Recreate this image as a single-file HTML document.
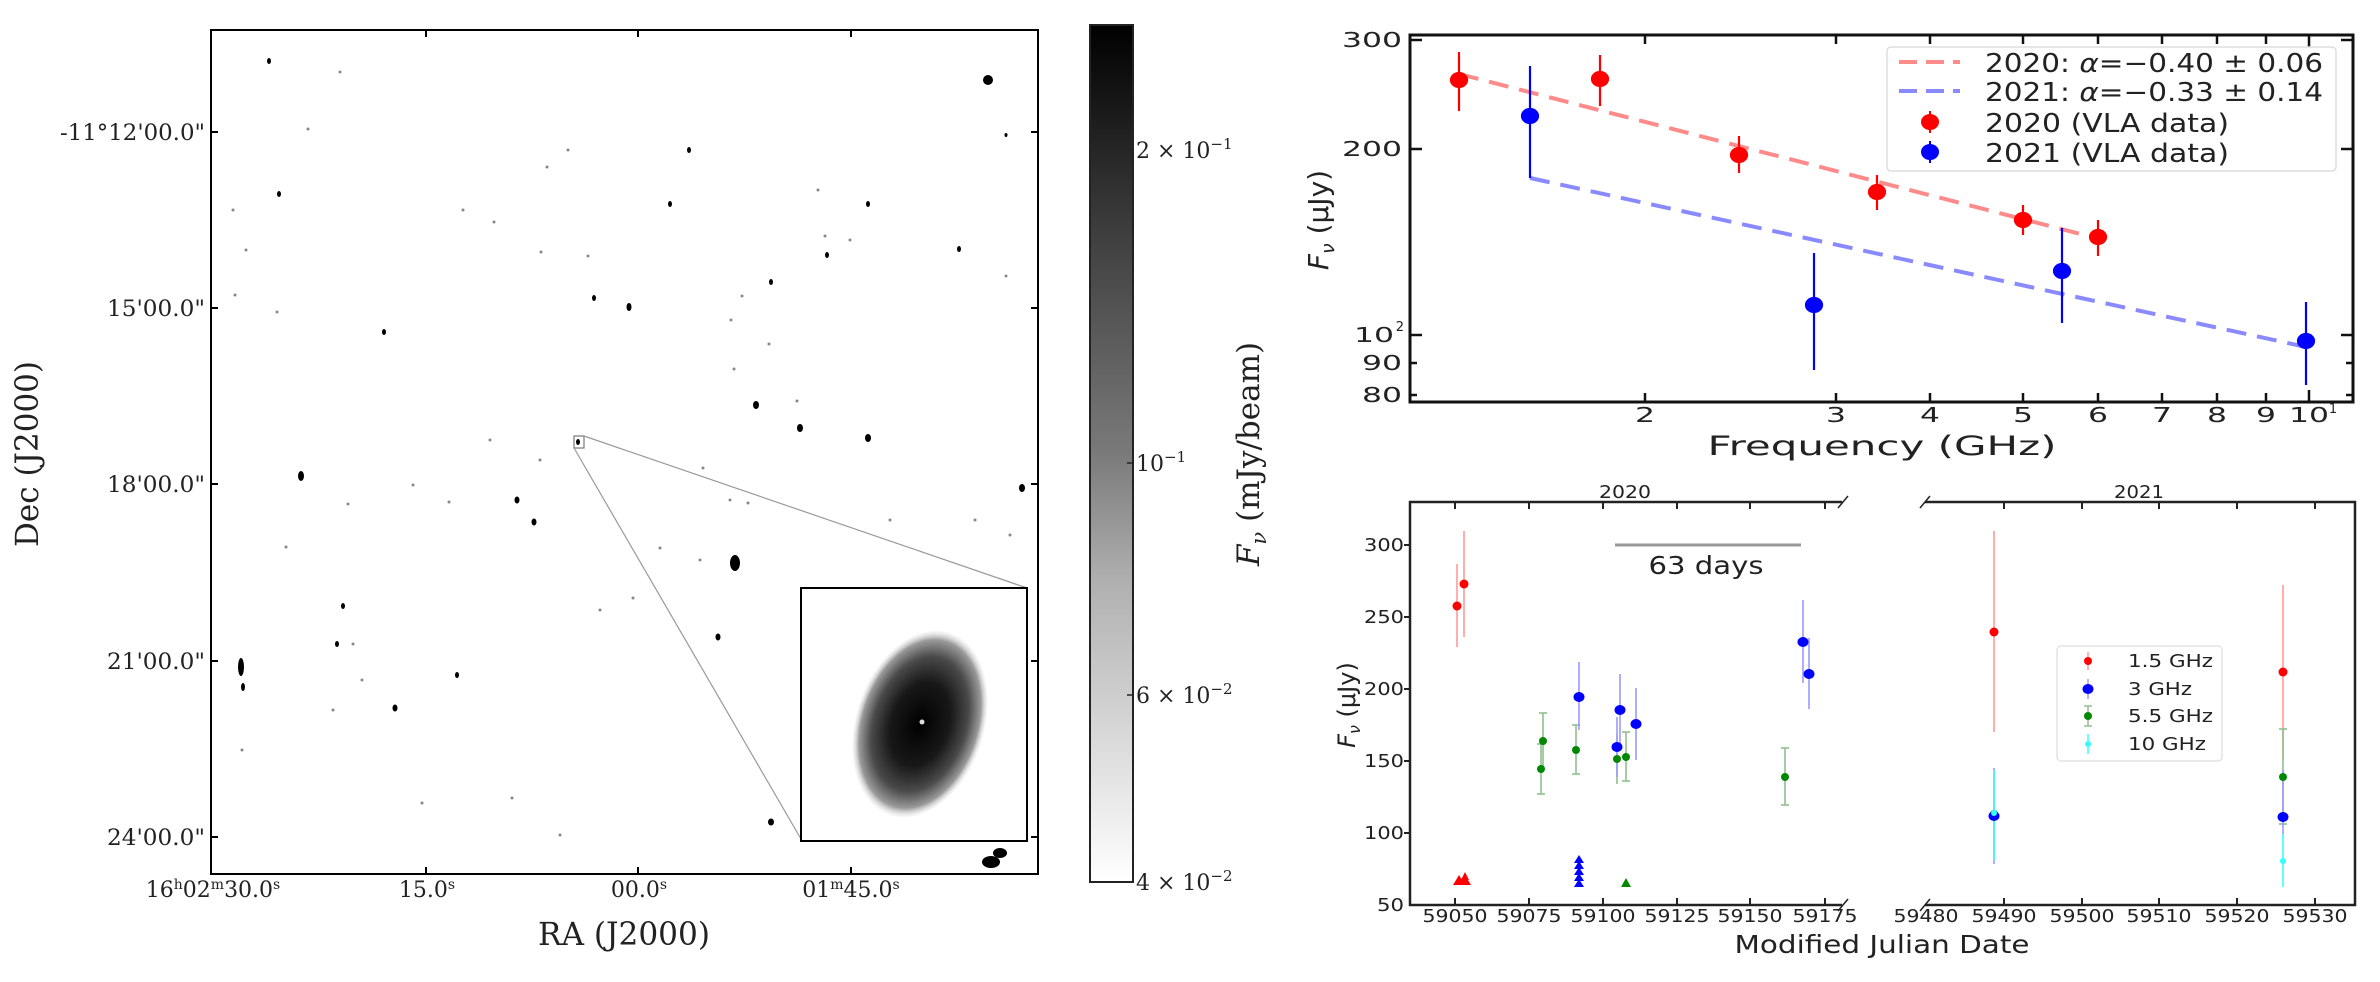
<!DOCTYPE html>
<html><head><meta charset="utf-8"><style>html,body{margin:0;padding:0;background:#fff}svg{display:block}</style></head>
<body>
<svg width="2380" height="982" viewBox="0 0 2380 982" xmlns="http://www.w3.org/2000/svg">
<defs>
<linearGradient id="cb" x1="0" y1="1" x2="0" y2="0">
<stop offset="0" stop-color="#fff"/><stop offset="0.35" stop-color="#b0b0b0"/><stop offset="0.5" stop-color="#7a7a7a"/><stop offset="0.75" stop-color="#404040"/><stop offset="1" stop-color="#000"/>
</linearGradient>
<radialGradient id="blob" cx="0.5" cy="0.5" r="0.5">
<stop offset="0" stop-color="#000"/><stop offset="0.45" stop-color="#181818"/><stop offset="0.72" stop-color="#4a4a4a"/><stop offset="0.9" stop-color="#9a9a9a"/><stop offset="1" stop-color="#eee" stop-opacity="0.3"/>
</radialGradient>
</defs>
<rect width="2380" height="982" fill="#fff"/>

<!-- LEFT PANEL -->
<g fill="#000">
<ellipse cx="988" cy="80" rx="5" ry="5"/>
<ellipse cx="301" cy="476" rx="3" ry="5"/>
<ellipse cx="735" cy="563" rx="5" ry="8"/>
<ellipse cx="241" cy="667" rx="3" ry="9"/>
<ellipse cx="243" cy="687" rx="2" ry="4"/>
<ellipse cx="991" cy="862" rx="9" ry="6"/>
<ellipse cx="1000" cy="853" rx="7" ry="5"/>
<ellipse cx="1022" cy="488" rx="3" ry="4"/>
<ellipse cx="800" cy="428" rx="3" ry="4"/>
<ellipse cx="868" cy="438" rx="3" ry="4"/>
<ellipse cx="756" cy="405" rx="3" ry="4"/>
<ellipse cx="629" cy="307" rx="2.5" ry="4"/>
<ellipse cx="517" cy="500" rx="2.5" ry="3.5"/>
<ellipse cx="534" cy="522" rx="2.5" ry="3.5"/>
<ellipse cx="718" cy="637" rx="2.5" ry="3.5"/>
<ellipse cx="395" cy="708" rx="2.5" ry="3.5"/>
<ellipse cx="771" cy="822" rx="3" ry="3.5"/>
<ellipse cx="959" cy="249" rx="2" ry="3"/>
<ellipse cx="827" cy="255" rx="2" ry="3"/>
<ellipse cx="594" cy="298" rx="2" ry="3"/>
<ellipse cx="771" cy="282" rx="2" ry="3"/>
<ellipse cx="269" cy="61" rx="2" ry="3"/>
<ellipse cx="689" cy="150" rx="2" ry="3"/>
<ellipse cx="670" cy="204" rx="2" ry="3"/>
<ellipse cx="868" cy="204" rx="2" ry="3"/>
<ellipse cx="279" cy="194" rx="2" ry="3"/>
<ellipse cx="384" cy="332" rx="2" ry="3"/>
<ellipse cx="457" cy="675" rx="2" ry="3"/>
<ellipse cx="337" cy="644" rx="2" ry="3"/>
<ellipse cx="343" cy="606" rx="2" ry="3"/>
<ellipse cx="1006" cy="135" rx="1.5" ry="2"/>
<ellipse cx="578" cy="442" rx="2" ry="3"/>
</g>
<g fill="#888">
<circle cx="340" cy="72" r="1.5"/><circle cx="308" cy="129" r="1.5"/><circle cx="568" cy="150" r="1.5"/><circle cx="547" cy="167" r="1.5"/><circle cx="463" cy="210" r="1.5"/><circle cx="494" cy="222" r="1.5"/><circle cx="541" cy="252" r="1.5"/><circle cx="588" cy="256" r="1.5"/><circle cx="742" cy="296" r="1.5"/><circle cx="731" cy="320" r="1.5"/><circle cx="734" cy="369" r="1.5"/><circle cx="769" cy="344" r="1.5"/><circle cx="797" cy="401" r="1.5"/><circle cx="703" cy="468" r="1.5"/><circle cx="748" cy="503" r="1.5"/><circle cx="413" cy="485" r="1.5"/><circle cx="449" cy="502" r="1.5"/><circle cx="348" cy="504" r="1.5"/><circle cx="286" cy="547" r="1.5"/><circle cx="633" cy="598" r="1.5"/><circle cx="353" cy="644" r="1.5"/><circle cx="362" cy="680" r="1.5"/><circle cx="333" cy="710" r="1.5"/><circle cx="422" cy="803" r="1.5"/><circle cx="512" cy="798" r="1.5"/><circle cx="560" cy="835" r="1.5"/><circle cx="235" cy="295" r="1.5"/><circle cx="246" cy="250" r="1.5"/><circle cx="277" cy="312" r="1.5"/><circle cx="242" cy="750" r="1.5"/><circle cx="233" cy="210" r="1.5"/><circle cx="818" cy="190" r="1.5"/><circle cx="825" cy="236" r="1.5"/><circle cx="850" cy="240" r="1.5"/><circle cx="1006" cy="276" r="1.5"/><circle cx="975" cy="520" r="1.5"/><circle cx="1010" cy="535" r="1.5"/><circle cx="890" cy="520" r="1.5"/><circle cx="660" cy="548" r="1.5"/><circle cx="540" cy="460" r="1.5"/><circle cx="490" cy="440" r="1.5"/><circle cx="730" cy="500" r="1.5"/><circle cx="700" cy="560" r="1.5"/><circle cx="600" cy="610" r="1.5"/></g>
<!-- zoom lines -->
<rect x="574" y="436" width="10" height="12" fill="none" stroke="#777" stroke-width="1.2"/>
<line x1="574" y1="448" x2="801" y2="839" stroke="#999" stroke-width="1.2"/>
<line x1="584" y1="436" x2="1027" y2="588" stroke="#999" stroke-width="1.2"/>
<!-- inset -->
<rect x="801" y="588" width="226" height="253" fill="#fff" stroke="#000" stroke-width="2"/>
<ellipse cx="920" cy="724" rx="64" ry="96" fill="url(#blob)" transform="rotate(18 920 724)"/>
<circle cx="922" cy="722" r="2.5" fill="#ddd"/>
<!-- frame -->
<rect x="211" y="30" width="827" height="844" fill="none" stroke="#000" stroke-width="2"/>
<g stroke="#000" stroke-width="2">
<line x1="211" y1="132" x2="218" y2="132"/><line x1="1031" y1="132" x2="1038" y2="132"/>
<line x1="211" y1="308" x2="218" y2="308"/><line x1="1031" y1="308" x2="1038" y2="308"/>
<line x1="211" y1="484" x2="218" y2="484"/><line x1="1031" y1="484" x2="1038" y2="484"/>
<line x1="211" y1="661" x2="218" y2="661"/><line x1="1031" y1="661" x2="1038" y2="661"/>
<line x1="211" y1="837" x2="218" y2="837"/><line x1="1031" y1="837" x2="1038" y2="837"/>
<line x1="426" y1="30" x2="426" y2="37"/><line x1="426" y1="867" x2="426" y2="874"/>
<line x1="638" y1="30" x2="638" y2="37"/><line x1="638" y1="867" x2="638" y2="874"/>
<line x1="851" y1="30" x2="851" y2="37"/><line x1="851" y1="867" x2="851" y2="874"/>
</g>
<g font-family="'DejaVu Serif','Liberation Serif',serif" font-size="22" fill="#222" text-anchor="end">
<text x="205" y="140" textLength="145" lengthAdjust="spacingAndGlyphs">-11°12'00.0"</text>
<text x="205" y="316" textLength="98" lengthAdjust="spacingAndGlyphs">15'00.0"</text>
<text x="205" y="492" textLength="98" lengthAdjust="spacingAndGlyphs">18'00.0"</text>
<text x="205" y="669" textLength="98" lengthAdjust="spacingAndGlyphs">21'00.0"</text>
<text x="205" y="845" textLength="98" lengthAdjust="spacingAndGlyphs">24'00.0"</text>
</g>
<g font-family="'DejaVu Serif','Liberation Serif',serif" font-size="22" fill="#222" text-anchor="middle">
<text x="213" y="897">16<tspan font-size="14" dy="-8">h</tspan><tspan dy="8">02</tspan><tspan font-size="14" dy="-8">m</tspan><tspan dy="8">30.0</tspan><tspan font-size="14" dy="-8">s</tspan></text>
<text x="427" y="897">15.0<tspan font-size="14" dy="-8">s</tspan></text>
<text x="639" y="897">00.0<tspan font-size="14" dy="-8">s</tspan></text>
<text x="851" y="897">01<tspan font-size="14" dy="-8">m</tspan><tspan dy="8">45.0</tspan><tspan font-size="14" dy="-8">s</tspan></text>
</g>
<text x="624" y="945" font-family="'DejaVu Serif','Liberation Serif',serif" font-size="32" fill="#222" text-anchor="middle" textLength="172" lengthAdjust="spacingAndGlyphs">RA (J2000)</text>
<text transform="translate(38 454) rotate(-90)" font-family="'DejaVu Serif','Liberation Serif',serif" font-size="32" fill="#222" text-anchor="middle" textLength="186" lengthAdjust="spacingAndGlyphs">Dec (J2000)</text>
<!-- colorbar -->
<rect x="1090" y="25" width="43" height="857" fill="url(#cb)" stroke="#222" stroke-width="2"/>
<g stroke="#222" stroke-width="1.5">
<line x1="1127" y1="150" x2="1133" y2="150"/><line x1="1127" y1="463" x2="1133" y2="463"/><line x1="1127" y1="695" x2="1133" y2="695"/>
</g>
<g font-family="'DejaVu Serif','Liberation Serif',serif" font-size="22" fill="#222">
<text x="1136" y="158">2 × 10<tspan font-size="15" dy="-9">−1</tspan></text>
<text x="1136" y="471">10<tspan font-size="15" dy="-9">−1</tspan></text>
<text x="1136" y="703">6 × 10<tspan font-size="15" dy="-9">−2</tspan></text>
<text x="1136" y="890">4 × 10<tspan font-size="15" dy="-9">−2</tspan></text>
</g>
<text transform="translate(1259 454) rotate(-90)" font-family="'DejaVu Serif','Liberation Serif',serif" font-size="31" fill="#222" text-anchor="middle"><tspan font-style="italic">F</tspan><tspan font-style="italic" font-size="21" dy="7">ν</tspan><tspan dy="-7"> (mJy/beam)</tspan></text>

<!-- TOP RIGHT PANEL -->
<g font-family="'DejaVu Sans','Liberation Sans',sans-serif" fill="#222">
<rect x="1410" y="35" width="943" height="367" fill="none" stroke="#111" stroke-width="3"/>
<g stroke="#111" stroke-width="2.5">
<line x1="1645" y1="402" x2="1645" y2="393"/><line x1="1645" y1="35" x2="1645" y2="44"/>
<line x1="1836" y1="402" x2="1836" y2="393"/><line x1="1836" y1="35" x2="1836" y2="44"/>
<line x1="1930" y1="402" x2="1930" y2="393"/><line x1="1930" y1="35" x2="1930" y2="44"/>
<line x1="2023" y1="402" x2="2023" y2="393"/><line x1="2023" y1="35" x2="2023" y2="44"/>
<line x1="2098" y1="402" x2="2098" y2="393"/><line x1="2098" y1="35" x2="2098" y2="44"/>
<line x1="2162" y1="402" x2="2162" y2="393"/><line x1="2162" y1="35" x2="2162" y2="44"/>
<line x1="2217" y1="402" x2="2217" y2="393"/><line x1="2217" y1="35" x2="2217" y2="44"/>
<line x1="2266" y1="402" x2="2266" y2="393"/><line x1="2266" y1="35" x2="2266" y2="44"/>
<line x1="2309" y1="402" x2="2309" y2="390"/><line x1="2309" y1="35" x2="2309" y2="47"/>
<line x1="1410" y1="40" x2="1422" y2="40"/><line x1="2341" y1="40" x2="2353" y2="40"/>
<line x1="1410" y1="149" x2="1422" y2="149"/><line x1="2341" y1="149" x2="2353" y2="149"/>
<line x1="1410" y1="335" x2="1422" y2="335"/><line x1="2341" y1="335" x2="2353" y2="335"/>
<line x1="1410" y1="363" x2="1417" y2="363"/><line x1="2346" y1="363" x2="2353" y2="363"/>
<line x1="1410" y1="395" x2="1417" y2="395"/><line x1="2346" y1="395" x2="2353" y2="395"/>
</g>
<g font-size="20" text-anchor="end">
<text x="1402" y="47" textLength="60" lengthAdjust="spacingAndGlyphs">300</text>
<text x="1402" y="156" textLength="60" lengthAdjust="spacingAndGlyphs">200</text>
<text x="1394" y="342" textLength="40" lengthAdjust="spacingAndGlyphs">10</text>
<text x="1404" y="331" font-size="13">2</text>
<text x="1402" y="370" textLength="40" lengthAdjust="spacingAndGlyphs">90</text>
<text x="1402" y="402" textLength="40" lengthAdjust="spacingAndGlyphs">80</text>
</g>
<g font-size="20" text-anchor="middle">
<text x="1645" y="422" textLength="20" lengthAdjust="spacingAndGlyphs">2</text>
<text x="1836" y="422" textLength="20" lengthAdjust="spacingAndGlyphs">3</text>
<text x="1930" y="422" textLength="20" lengthAdjust="spacingAndGlyphs">4</text>
<text x="2023" y="422" textLength="20" lengthAdjust="spacingAndGlyphs">5</text>
<text x="2098" y="422" textLength="20" lengthAdjust="spacingAndGlyphs">6</text>
<text x="2162" y="422" textLength="20" lengthAdjust="spacingAndGlyphs">7</text>
<text x="2217" y="422" textLength="20" lengthAdjust="spacingAndGlyphs">8</text>
<text x="2266" y="422" textLength="20" lengthAdjust="spacingAndGlyphs">9</text>
<text x="2309" y="422" textLength="40" lengthAdjust="spacingAndGlyphs">10</text>
<text x="2333" y="413" font-size="13">1</text>
</g>
<text x="1882" y="455" font-size="27" text-anchor="middle" textLength="349" lengthAdjust="spacingAndGlyphs">Frequency (GHz)</text>
<text transform="translate(1328 220) rotate(-90)" font-size="28" text-anchor="middle"><tspan font-style="italic">F</tspan><tspan font-style="italic" font-size="19" dy="6">ν</tspan><tspan dy="-6"> (μJy)</tspan></text>
<!-- fit lines -->
<line x1="1459" y1="74" x2="2104" y2="240" stroke="#ff8a8a" stroke-width="4" stroke-dasharray="20 11"/>
<line x1="1530" y1="178" x2="2306" y2="347" stroke="#8a8aff" stroke-width="4" stroke-dasharray="20 11"/>
<!-- red points -->
<g stroke="#f00" stroke-width="2.2" fill="#f00">
<line x1="1459" y1="52" x2="1459" y2="111"/><ellipse cx="1459" cy="80" rx="8" ry="7"/>
<line x1="1600" y1="55" x2="1600" y2="106"/><ellipse cx="1600" cy="79" rx="8" ry="7"/>
<line x1="1739" y1="136" x2="1739" y2="173"/><ellipse cx="1739" cy="155" rx="8" ry="7"/>
<line x1="1877" y1="175" x2="1877" y2="210"/><ellipse cx="1877" cy="192" rx="8" ry="7"/>
<line x1="2023" y1="205" x2="2023" y2="235"/><ellipse cx="2023" cy="220" rx="8" ry="7"/>
<line x1="2098" y1="220" x2="2098" y2="256"/><ellipse cx="2098" cy="237" rx="8" ry="7"/>
</g>
<g stroke="#00f" stroke-width="2.2" fill="#00f">
<line x1="1530" y1="66" x2="1530" y2="178"/><ellipse cx="1530" cy="116" rx="8" ry="7"/>
<line x1="1814" y1="253" x2="1814" y2="370"/><ellipse cx="1814" cy="305" rx="8" ry="7"/>
<line x1="2062" y1="228" x2="2062" y2="323"/><ellipse cx="2062" cy="271" rx="8" ry="7"/>
<line x1="2306" y1="302" x2="2306" y2="385"/><ellipse cx="2306" cy="341" rx="8" ry="7"/>
</g>
<!-- legend -->
<rect x="1887" y="47" width="449" height="124" rx="4" fill="#fff" fill-opacity="0.85" stroke="#ddd" stroke-width="1.5"/>
<line x1="1899" y1="62" x2="1960" y2="62" stroke="#ff8a8a" stroke-width="4" stroke-dasharray="18 9"/>
<line x1="1899" y1="91" x2="1960" y2="91" stroke="#8a8aff" stroke-width="4" stroke-dasharray="18 9"/>
<g stroke="#f00" stroke-width="2" fill="#f00"><line x1="1930" y1="111" x2="1930" y2="133"/><ellipse cx="1930" cy="122" rx="8" ry="7"/></g>
<g stroke="#00f" stroke-width="2" fill="#00f"><line x1="1930" y1="141" x2="1930" y2="163"/><ellipse cx="1930" cy="152" rx="8" ry="7"/></g>
<g font-size="26">
<text x="1985" y="72" textLength="338" lengthAdjust="spacingAndGlyphs">2020: <tspan font-style="italic">α</tspan>=−0.40 ± 0.06</text>
<text x="1985" y="101" textLength="338" lengthAdjust="spacingAndGlyphs">2021: <tspan font-style="italic">α</tspan>=−0.33 ± 0.14</text>
<text x="1985" y="132" textLength="244" lengthAdjust="spacingAndGlyphs">2020 (VLA data)</text>
<text x="1985" y="162" textLength="244" lengthAdjust="spacingAndGlyphs">2021 (VLA data)</text>
</g>

<!-- BOTTOM RIGHT PANEL -->
<g stroke="#222" stroke-width="2.5" fill="none">
<polyline points="1842,502 1410,502 1410,905 1842,905"/>
<polyline points="1925,502 2355,502 2355,905 1925,905"/>
</g>
<g stroke="#222" stroke-width="1.5">
<line x1="1838" y1="508" x2="1848" y2="496"/><line x1="1838" y1="911" x2="1848" y2="899"/>
<line x1="1920" y1="508" x2="1930" y2="496"/><line x1="1920" y1="911" x2="1930" y2="899"/>
</g>
<g stroke="#222" stroke-width="2">
<line x1="1455" y1="502" x2="1455" y2="509"/><line x1="1455" y1="905" x2="1455" y2="898"/>
<line x1="1529" y1="502" x2="1529" y2="509"/><line x1="1529" y1="905" x2="1529" y2="898"/>
<line x1="1603" y1="502" x2="1603" y2="509"/><line x1="1603" y1="905" x2="1603" y2="898"/>
<line x1="1677" y1="502" x2="1677" y2="509"/><line x1="1677" y1="905" x2="1677" y2="898"/>
<line x1="1750" y1="502" x2="1750" y2="509"/><line x1="1750" y1="905" x2="1750" y2="898"/>
<line x1="1825" y1="502" x2="1825" y2="509"/><line x1="1825" y1="905" x2="1825" y2="898"/>
<line x1="2004" y1="502" x2="2004" y2="509"/><line x1="2004" y1="905" x2="2004" y2="898"/>
<line x1="2082" y1="502" x2="2082" y2="509"/><line x1="2082" y1="905" x2="2082" y2="898"/>
<line x1="2159" y1="502" x2="2159" y2="509"/><line x1="2159" y1="905" x2="2159" y2="898"/>
<line x1="2237" y1="502" x2="2237" y2="509"/><line x1="2237" y1="905" x2="2237" y2="898"/>
<line x1="2315" y1="502" x2="2315" y2="509"/><line x1="2315" y1="905" x2="2315" y2="898"/>
<line x1="1404" y1="545" x2="1410" y2="545"/><line x1="1404" y1="617" x2="1410" y2="617"/><line x1="1404" y1="689" x2="1410" y2="689"/><line x1="1404" y1="761" x2="1410" y2="761"/><line x1="1404" y1="833" x2="1410" y2="833"/>
</g>
<text x="1625" y="498" font-size="18" text-anchor="middle" textLength="52" lengthAdjust="spacingAndGlyphs">2020</text>
<text x="2139" y="498" font-size="18" text-anchor="middle" textLength="50" lengthAdjust="spacingAndGlyphs">2021</text>
<g font-size="18" text-anchor="end">
<text x="1404" y="551" textLength="40" lengthAdjust="spacingAndGlyphs">300</text>
<text x="1404" y="623" textLength="40" lengthAdjust="spacingAndGlyphs">250</text>
<text x="1404" y="695" textLength="40" lengthAdjust="spacingAndGlyphs">200</text>
<text x="1404" y="767" textLength="40" lengthAdjust="spacingAndGlyphs">150</text>
<text x="1404" y="839" textLength="40" lengthAdjust="spacingAndGlyphs">100</text>
<text x="1404" y="911" textLength="27" lengthAdjust="spacingAndGlyphs">50</text>
</g>
<g font-size="18" text-anchor="middle">
<text x="1455" y="922" textLength="65" lengthAdjust="spacingAndGlyphs">59050</text>
<text x="1529" y="922" textLength="65" lengthAdjust="spacingAndGlyphs">59075</text>
<text x="1603" y="922" textLength="65" lengthAdjust="spacingAndGlyphs">59100</text>
<text x="1677" y="922" textLength="65" lengthAdjust="spacingAndGlyphs">59125</text>
<text x="1750" y="922" textLength="65" lengthAdjust="spacingAndGlyphs">59150</text>
<text x="1825" y="922" textLength="65" lengthAdjust="spacingAndGlyphs">59175</text>
<text x="1926" y="922" textLength="65" lengthAdjust="spacingAndGlyphs">59480</text>
<text x="2004" y="922" textLength="65" lengthAdjust="spacingAndGlyphs">59490</text>
<text x="2082" y="922" textLength="65" lengthAdjust="spacingAndGlyphs">59500</text>
<text x="2159" y="922" textLength="65" lengthAdjust="spacingAndGlyphs">59510</text>
<text x="2237" y="922" textLength="65" lengthAdjust="spacingAndGlyphs">59520</text>
<text x="2315" y="922" textLength="65" lengthAdjust="spacingAndGlyphs">59530</text>
</g>
<text x="1882" y="953" font-size="25" text-anchor="middle" textLength="295" lengthAdjust="spacingAndGlyphs">Modified Julian Date</text>
<text transform="translate(1355 705) rotate(-90)" font-size="24" text-anchor="middle"><tspan font-style="italic">F</tspan><tspan font-style="italic" font-size="16" dy="5">ν</tspan><tspan dy="-5"> (μJy)</tspan></text>
<line x1="1615" y1="545" x2="1801" y2="545" stroke="#999" stroke-width="3"/>
<text x="1706" y="574" font-size="25" text-anchor="middle" textLength="115" lengthAdjust="spacingAndGlyphs">63 days</text>
<!-- error bars -->
<g stroke-width="1.6">
<g stroke="#ff9a9a"><line x1="1457" y1="564" x2="1457" y2="647"/><line x1="1464" y1="531" x2="1464" y2="637"/><line x1="1994" y1="531" x2="1994" y2="732"/><line x1="2283" y1="585" x2="2283" y2="759"/></g>
<g stroke="#8fbf8f"><line x1="1541" y1="744" x2="1541" y2="794"/><line x1="1543" y1="713" x2="1543" y2="769"/><line x1="1576" y1="725" x2="1576" y2="774"/><line x1="1617" y1="735" x2="1617" y2="784"/><line x1="1626" y1="732" x2="1626" y2="781"/><line x1="1785" y1="748" x2="1785" y2="805"/><line x1="1994" y1="773" x2="1994" y2="853"/><line x1="2283" y1="729" x2="2283" y2="824"/>
<line x1="1537" y1="744" x2="1545" y2="744"/><line x1="1537" y1="794" x2="1545" y2="794"/><line x1="1539" y1="713" x2="1547" y2="713"/><line x1="1572" y1="725" x2="1580" y2="725"/><line x1="1572" y1="774" x2="1580" y2="774"/><line x1="1622" y1="732" x2="1630" y2="732"/><line x1="1622" y1="781" x2="1630" y2="781"/><line x1="1781" y1="748" x2="1789" y2="748"/><line x1="1781" y1="805" x2="1789" y2="805"/><line x1="2279" y1="729" x2="2287" y2="729"/><line x1="2279" y1="824" x2="2287" y2="824"/></g>
<g stroke="#9a9aff"><line x1="1579" y1="662" x2="1579" y2="730"/><line x1="1617" y1="717" x2="1617" y2="777"/><line x1="1620" y1="674" x2="1620" y2="745"/><line x1="1636" y1="688" x2="1636" y2="760"/><line x1="1803" y1="600" x2="1803" y2="683"/><line x1="1809" y1="638" x2="1809" y2="709"/><line x1="1994" y1="768" x2="1994" y2="864"/><line x1="2283" y1="770" x2="2283" y2="834"/></g>
<g stroke="#3ff"><line x1="1994" y1="770" x2="1994" y2="860"/><line x1="2283" y1="834" x2="2283" y2="887"/></g>
</g>
<g fill="#f00"><circle cx="1457" cy="606" r="4.5"/><circle cx="1464" cy="584" r="4.5"/><circle cx="1994" cy="632" r="4.5"/><circle cx="2283" cy="672" r="4.5"/>
<polygon points="1453,885 1459,875 1465,885"/><polygon points="1459,885 1465,875 1471,885"/><polygon points="1461,880 1465,872 1469,880"/></g>
<g fill="#080"><circle cx="1541" cy="769" r="4"/><circle cx="1543" cy="741" r="4"/><circle cx="1576" cy="750" r="4"/><circle cx="1617" cy="759" r="4"/><circle cx="1626" cy="757" r="4"/><circle cx="1785" cy="777" r="4"/><circle cx="1994" cy="814" r="4"/><circle cx="2283" cy="777" r="4"/>
<polygon points="1621,887 1626,878 1631,887"/></g>
<g fill="#00f"><ellipse cx="1579" cy="697" rx="5.5" ry="5"/><ellipse cx="1617" cy="747" rx="5.5" ry="5"/><ellipse cx="1620" cy="710" rx="5.5" ry="5"/><ellipse cx="1636" cy="724" rx="5.5" ry="5"/><ellipse cx="1803" cy="642" rx="5.5" ry="5"/><ellipse cx="1809" cy="674" rx="5.5" ry="5"/><ellipse cx="1994" cy="816" rx="5.5" ry="5"/><ellipse cx="2283" cy="817" rx="5.5" ry="5"/>
<polygon points="1574,887 1579,879 1584,887"/><polygon points="1574,881 1579,873 1584,881"/><polygon points="1574,875 1579,867 1584,875"/><polygon points="1574,869 1579,861 1584,869"/><polygon points="1574,863 1579,855 1584,863"/></g>
<g fill="#3ff"><circle cx="1994" cy="813" r="3"/><circle cx="2283" cy="861" r="3"/></g>
<!-- legend bottom -->
<rect x="2057" y="646" width="165" height="115" rx="4" fill="#fff" fill-opacity="0.85" stroke="#e4e4e4" stroke-width="1.5"/>
<g stroke-width="1.5">
<line x1="2088" y1="652" x2="2088" y2="670" stroke="#ff9a9a"/><line x1="2088" y1="679" x2="2088" y2="699" stroke="#9a9aff"/><line x1="2088" y1="706" x2="2088" y2="726" stroke="#8fbf8f"/><line x1="2084" y1="706" x2="2092" y2="706" stroke="#8fbf8f"/><line x1="2084" y1="726" x2="2092" y2="726" stroke="#8fbf8f"/><line x1="2088" y1="734" x2="2088" y2="754" stroke="#3ff"/>
</g>
<circle cx="2088" cy="661" r="4" fill="#f00"/><ellipse cx="2088" cy="689" rx="5.5" ry="5" fill="#00f"/><circle cx="2088" cy="716" r="4" fill="#080"/><circle cx="2088" cy="744" r="3" fill="#3ff"/>
<g font-size="18">
<text x="2128" y="667" textLength="85" lengthAdjust="spacingAndGlyphs">1.5 GHz</text>
<text x="2128" y="695" textLength="64" lengthAdjust="spacingAndGlyphs">3 GHz</text>
<text x="2128" y="722" textLength="85" lengthAdjust="spacingAndGlyphs">5.5 GHz</text>
<text x="2128" y="750" textLength="78" lengthAdjust="spacingAndGlyphs">10 GHz</text>
</g>
</g>
</svg>
</body></html>
